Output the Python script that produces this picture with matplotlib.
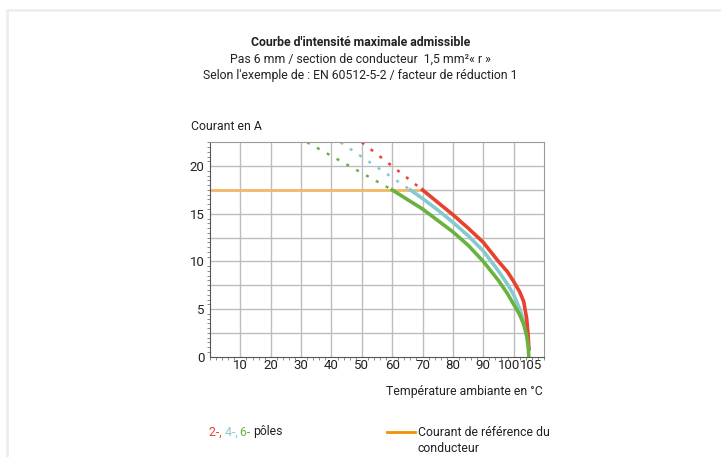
import matplotlib
matplotlib.use("Agg")
import matplotlib.pyplot as plt
from matplotlib.lines import Line2D
from matplotlib.patches import Rectangle
from matplotlib.ticker import MultipleLocator, FixedLocator
from matplotlib.transforms import ScaledTranslation

plt.rcParams["font.family"] = ["Roboto", "DejaVu Sans"]

RED, BLUE, GREEN = "#e8412c", "#86c9cf", "#6ab23e"
ORANGE_REF, ORANGE_LEG, GRID, TXT = "#f3b765", "#f39200", "#bdbdbd", "#222222"

# derating curves (temperature in deg C, current in A)
red_t = [70, 75, 80, 85, 90, 95, 98, 100, 102, 103.3, 104.3, 104.8, 105]
red_i = [17.5, 16.2, 14.9, 13.5, 12.0, 10.0, 8.9, 7.9, 6.8, 5.8, 4.0, 2.2, 0.8]
blue_t = [66, 70, 75, 80, 85, 90, 95, 98, 100, 102, 103.5, 104.5, 105]
blue_i = [17.5, 16.6, 15.4, 14.1, 12.7, 11.1, 9.0, 7.6, 6.5, 5.0, 3.6, 2.0, 0.8]
green_t = [60, 65, 70, 75, 80, 85, 90, 95, 98, 100, 102, 103.3, 104.3, 104.8, 105]
green_i = [17.5, 16.5, 15.5, 14.3, 13.1, 11.7, 10.0, 8.0, 6.6, 5.5, 4.4, 3.4, 2.2, 1.1, 0.0]

# dotted extrapolation above the reference current
red_ext_t, red_ext_i = [50, 70], [22.5, 17.5]
blue_ext_t, blue_ext_i = [43, 66], [22.5, 17.5]
green_ext_t, green_ext_i = [32, 60], [22.5, 17.5]

ref_t, ref_i = [0, 70], [17.5, 17.5]

x_ticks = [10, 20, 30, 40, 50, 60, 70, 80, 90, 100, 105]
y_ticks = [0, 5, 10, 15, 20]

FS = 8.8

fig = plt.figure(figsize=(7.21, 4.57), dpi=100)
fig.patch.set_facecolor("white")
# faint page frame
fig.add_artist(Rectangle((7 / 721, -0.1), 1.2, 1 - 10 / 457 + 0.1, transform=fig.transFigure,
                         fill=False, edgecolor="#eeeeee", linewidth=2))

ax = fig.add_axes([210 / 721, 1 - 356.7 / 457, 334 / 721, 214.4 / 457])
ax.set_xlim(0, 110)
ax.set_ylim(0, 22.5)
ax.xaxis.set_major_locator(FixedLocator(x_ticks))
ax.xaxis.set_minor_locator(MultipleLocator(2))
ax.yaxis.set_major_locator(FixedLocator(y_ticks))
ax.yaxis.set_minor_locator(MultipleLocator(0.5))
for v in range(10, 101, 10):
    ax.axvline(v, color=GRID, linewidth=1, zorder=0)
for v in [2.5, 5, 7.5, 10, 12.5, 15, 17.5, 20]:
    ax.axhline(v, color=GRID, linewidth=1, zorder=0)
for s in ax.spines.values():
    s.set_color("#9a9a9a")
ax.spines["left"].set_color("#555555")
ax.spines["bottom"].set_color("#555555")
ax.tick_params(which="major", length=0, labelsize=9.5, colors=TXT)
ax.tick_params(axis="x", which="major", pad=2)
ax.tick_params(axis="y", which="major", pad=4)
ax.tick_params(which="minor", length=2, color="#777777", direction="out")

# nudge the crowded 100 / 105 labels apart
fig.canvas.draw()
for lab in ax.get_xticklabels():
    if lab.get_text() == "100":
        lab.set_transform(lab.get_transform() + ScaledTranslation(-5 / 100, 0, fig.dpi_scale_trans))
    elif lab.get_text() == "105":
        lab.set_transform(lab.get_transform() + ScaledTranslation(2.5 / 100, 0, fig.dpi_scale_trans))

ax.plot(ref_t, ref_i, color=ORANGE_REF, linewidth=2, zorder=2)
for t, i, c in [(red_ext_t, red_ext_i, RED), (blue_ext_t, blue_ext_i, BLUE),
                (green_ext_t, green_ext_i, GREEN)]:
    ax.plot(t, i, color=c, linewidth=1.8, dashes=(1.2, 3.3), zorder=2)
ax.plot(blue_t, blue_i, color=BLUE, linewidth=2.6, zorder=3)
ax.plot(red_t, red_i, color=RED, linewidth=2.6, zorder=4)
ax.plot(green_t, green_i, color=GREEN, linewidth=2.6, zorder=5)

fig.text(191 / 721, 1 - 126 / 457, "Courant en A", fontsize=FS, color=TXT, va="center")
fig.text(543 / 721, 1 - 391 / 457, "Température ambiante en °C", fontsize=FS,
         color=TXT, ha="right", va="center")

fig.text(0.5, 1 - 43 / 457, "Courbe d'intensité maximale admissible", fontsize=FS,
         fontweight="bold", color=TXT, ha="center", va="center")
fig.text(0.5, 1 - 59 / 457, "Pas 6 mm / section de conducteur  1,5 mm²« r »", fontsize=FS,
         color=TXT, ha="center", va="center")
fig.text(0.5, 1 - 75 / 457, "Selon l'exemple de : EN 60512-5-2 / facteur de réduction 1",
         fontsize=FS, color=TXT, ha="center", va="center")

# legend: coloured pole counts
t1 = fig.text(209 / 721, 1 - 432 / 457, "2-, ", fontsize=FS, color=RED, va="center")
t2 = ax.annotate("4-, ", xy=(1, 0), xycoords=t1, va="bottom", fontsize=FS, color=BLUE,
                 annotation_clip=False)
t3 = ax.annotate("6- ", xy=(1, 0), xycoords=t2, va="bottom", fontsize=FS, color=GREEN,
                 annotation_clip=False)
ax.annotate("pôles", xy=(1, 0), xycoords=t3, va="bottom", fontsize=FS, color=TXT,
            annotation_clip=False)

fig.add_artist(Line2D([387 / 721, 415 / 721], [1 - 432 / 457] * 2, color=ORANGE_LEG,
                      linewidth=2, transform=fig.transFigure))
fig.text(418 / 721, 1 - 432 / 457, "Courant de référence du", fontsize=FS, color=TXT,
         va="center")
fig.text(418 / 721, 1 - 448 / 457, "conducteur", fontsize=FS, color=TXT, va="center")

fig.savefig("out.png", dpi=100, facecolor="white")
